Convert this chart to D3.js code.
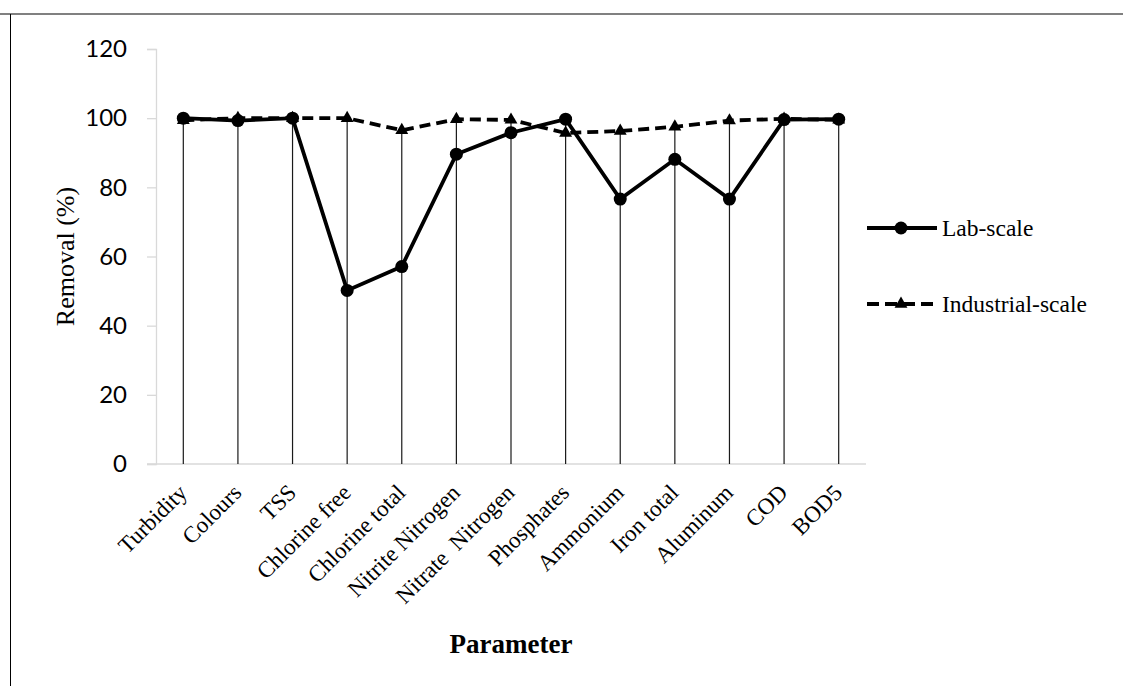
<!DOCTYPE html>
<html>
<head>
<meta charset="utf-8">
<script src="https://cdn.jsdelivr.net/npm/d3@7"></script>
<style>
  body { margin: 0; background: #fff; }
  .cat { font-family: "Liberation Serif", serif; font-size: 23px; white-space: pre; }
  .ytick text { font-family: Lato, "Open Sans", sans-serif; font-size: 24px; fill: #000; }
</style>
</head>
<body>
<div id="chart"></div>
<script>
// data
const categories = ["Turbidity", "Colours", "TSS", "Chlorine free", "Chlorine total", "Nitrite Nitrogen",
    "Nitrate  Nitrogen", "Phosphates", "Ammonium", "Iron total", "Aluminum", "COD", "BOD5"];
const labScale = [100, 99.3, 100, 50.2, 57.1, 89.6, 95.8, 99.7, 76.6, 88.1, 76.6, 99.6, 99.7];
const industrialScale = [99.4, 100, 100, 100, 96.5, 99.7, 99.5, 95.7, 96.3, 97.5, 99.3, 99.8, 99.5];
const yTicks = [0, 20, 40, 60, 80, 100, 120];

const width = 1123;
const height = 686;
const margin = { top: 49, right: 257, left: 156, bottom: 222 };

const svg = d3.select("div#chart").append("svg").attr("width", width).attr("height", height)

// frame lines
svg.append("line").attr("x1", 0).attr("x2", width).attr("y1", 14).attr("y2", 14)
    .attr("stroke", "#808080").attr("stroke-width", 2)
svg.append("line").attr("x1", 10.5).attr("x2", 10.5).attr("y1", 14).attr("y2", height)
    .attr("stroke", "#000").attr("stroke-width", 1)

const x = d3.scaleBand().domain(categories).range([margin.left, width - margin.right])
const y = d3.scaleLinear().domain([0, 120]).range([height - margin.bottom, margin.top])
const cx = d => x(d) + x.bandwidth() / 2

// y axis
const yAxis = d3.axisLeft(y).tickValues(yTicks).tickSize(9).tickPadding(20)
const yAxisGroup = svg.append("g").attr("class", "ytick").attr("transform", `translate(${margin.left}, 0)`).call(yAxis)
yAxisGroup.selectAll("path, line").attr("stroke", "#d9d9d9").attr("stroke-width", 1.3)

// x axis line
svg.append("line").attr("x1", margin.left - 9).attr("x2", width - margin.right)
    .attr("y1", y(0)).attr("y2", y(0)).attr("stroke", "#d9d9d9").attr("stroke-width", 1.5)

// drop lines
svg.append("g").selectAll("line").data(categories).join("line")
    .attr("x1", d => cx(d)).attr("x2", d => cx(d))
    .attr("y1", (d, i) => y(Math.max(labScale[i], industrialScale[i])))
    .attr("y2", y(0))
    .attr("stroke", "#1a1a1a").attr("stroke-width", 1.2)

// category labels
svg.append("g").selectAll("text").data(categories).join("text")
    .attr("class", "cat")
    .attr("text-anchor", "end")
    .attr("transform", d => `translate(${cx(d) + 5}, ${y(0) + 30}) rotate(-45)`)
    .text(d => d)

const line = d3.line().x(d => cx(d.cat)).y(d => y(d.v))
const indData = categories.map((c, i) => ({ cat: c, v: industrialScale[i] }))
const labData = categories.map((c, i) => ({ cat: c, v: labScale[i] }))
const tri = d3.symbol().type(d3.symbolTriangle).size(72)

// industrial-scale
svg.append("path").datum(indData).attr("d", line)
    .attr("fill", "none").attr("stroke", "#000").attr("stroke-width", 3.8).attr("stroke-dasharray", "11,6")
svg.append("g").selectAll("path").data(indData).join("path")
    .attr("d", tri).attr("transform", d => `translate(${cx(d.cat)}, ${y(d.v)})`)

// lab-scale
svg.append("path").datum(labData).attr("d", line)
    .attr("fill", "none").attr("stroke", "#000").attr("stroke-width", 3.8)
svg.append("g").selectAll("circle").data(labData).join("circle")
    .attr("cx", d => cx(d.cat)).attr("cy", d => y(d.v)).attr("r", 6.5)

// axis titles
svg.append("text").attr("transform", `translate(74, ${y(60)}) rotate(-90)`)
    .attr("text-anchor", "middle").attr("font-family", "Liberation Serif").attr("font-size", 26)
    .text("Removal (%)")
svg.append("text").attr("x", (margin.left + width - margin.right) / 2).attr("y", 653)
    .attr("text-anchor", "middle").attr("font-family", "Liberation Serif").attr("font-size", 27)
    .attr("font-weight", "bold").text("Parameter")

// legend
const legend = [
    { name: "Lab-scale", y: 228, dash: null, mark: "circle" },
    { name: "Industrial-scale", y: 304, dash: "12,6", mark: "tri" }
]
legend.forEach(l => {
    svg.append("line").attr("x1", 867).attr("x2", 937).attr("y1", l.y).attr("y2", l.y)
        .attr("stroke", "#000").attr("stroke-width", 3.8).attr("stroke-dasharray", l.dash)
    if (l.mark === "circle") svg.append("circle").attr("cx", 901).attr("cy", l.y).attr("r", 6.5)
    else svg.append("path").attr("d", tri).attr("transform", `translate(901, ${l.y})`)
    svg.append("text").attr("x", 942).attr("y", l.y + 8).attr("font-family", "Liberation Serif")
        .attr("font-size", 23.5).text(l.name)
})
</script>
</body>
</html>
